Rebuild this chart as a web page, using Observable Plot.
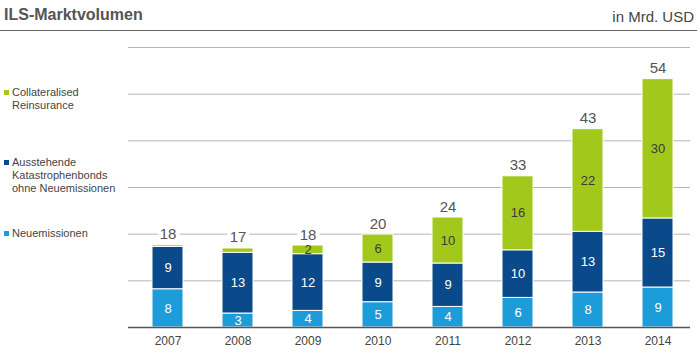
<!DOCTYPE html>
<html>
<head>
<meta charset="utf-8">
<script src="https://cdn.jsdelivr.net/npm/d3@7"></script>
<script src="https://cdn.jsdelivr.net/npm/@observablehq/plot@0.6"></script>
<style>
  html, body { margin: 0; padding: 0; background: #fff; }
  #wrap { position: relative; width: 700px; height: 358px; overflow: hidden; font-family: "Liberation Sans", Arial, sans-serif; }
  #chart { position: absolute; left: 0; top: 0; }
  .title { position: absolute; left: 4px; top: 5px; font-size: 16px; font-weight: bold; color: #555; line-height: 20px; }
  .unit { position: absolute; right: 6px; top: 7px; font-size: 15px; color: #444; line-height: 20px; }
  .hr { position: absolute; left: 0; top: 30px; width: 697px; height: 1px; background: #666; }
  .leg { position: absolute; left: 12px; font-size: 11px; line-height: 13px; color: #444; }
  .sq { position: absolute; left: 4px; width: 5px; height: 5px; }
</style>
</head>
<body>
<div id="wrap">
  <div id="chart"></div>
  <div class="title">ILS-Marktvolumen</div>
  <div class="unit">in Mrd. USD</div>
  <div class="hr"></div>
  <div id="legend"></div>
</div>
<script>
// Data (billion USD)
const years = ["2007", "2008", "2009", "2010", "2011", "2012", "2013", "2014"];
const neuemissionen = [8.2, 3.0, 3.56, 5.42, 4.41, 6.34, 7.5, 8.57];
const ausstehende = [9.06, 13.0, 12.15, 8.5, 9.3, 10.2, 13.0, 14.8];
const collateralised = [0.36, 0.94, 1.86, 6.0, 9.86, 15.86, 22.0, 29.85];
// Printed labels
const neuLabels = [8, 3, 4, 5, 4, 6, 8, 9];
const ausLabels = [9, 13, 12, 9, 9, 10, 13, 15];
const colLabels = [null, null, 2, 6, 10, 16, 22, 30];
const totalLabels = [18, 17, 18, 20, 24, 33, 43, 54];
const gridTicks = [10, 20, 30, 40, 50, 60];

const seriesNames = ["Neuemissionen", "Ausstehende Katastrophenbonds ohne Neuemissionen", "Collateralised Reinsurance"];
const seriesColors = ["#1c9dda", "#0b4a8a", "#a2c81c"];
const seriesValues = [neuemissionen, ausstehende, collateralised];
const seriesLabels = [neuLabels, ausLabels, colLabels];
const labelColors = ["#ffffff", "#ffffff", "#3b3b3b"];

const rows = [];
const totals = [];
years.forEach((yr, i) => {
  let base = 0;
  seriesNames.forEach((name, s) => {
    const v = seriesValues[s][i];
    rows.push({ year: yr, series: name, y1: base, y2: base + v, mid: base + v / 2, label: seriesLabels[s][i], tc: labelColors[s] });
    base += v;
  });
  totals.push({ year: yr, top: base, label: totalLabels[i] });
});

const chart = Plot.plot({
  width: 700,
  height: 358,
  marginLeft: 128,
  marginRight: 10,
  marginTop: 47,
  marginBottom: 31,
  style: { fontFamily: "'Liberation Sans', Arial, sans-serif", fontSize: "12px", color: "#444", background: "transparent" },
  x: { domain: years, range: [131, 693], paddingInner: 0.5625, paddingOuter: 0.25, label: null, tickSize: 0, tickPadding: 9 },
  y: { domain: [0, 60], axis: null },
  color: { domain: seriesNames, range: seriesColors },
  marks: [
    Plot.ruleY(gridTicks, { stroke: "#b5b5b5", strokeWidth: 1 }),
    Plot.barY(rows, { x: "year", y1: "y1", y2: "y2", fill: "series", stroke: "white", strokeWidth: 1 }),
    Plot.ruleY([0], { stroke: "#555", strokeWidth: 1.5 }),
    Plot.text(rows.filter(d => d.label != null), { x: "year", y: "mid", text: "label", fill: "tc", fontSize: 13 }),
    Plot.text(totals, { x: "year", y: "top", text: "label", lineAnchor: "bottom", dy: -6, fontSize: 15, fill: "#555", stroke: "white", strokeWidth: 8, paintOrder: "stroke" })
  ]
});
document.getElementById("chart").appendChild(chart);

// Legend (HTML overlay, left side)
const legendItems = [
  { name: ["Collateralised", "Reinsurance"], color: seriesColors[2], top: 85.5 },
  { name: ["Ausstehende", "Katastrophenbonds", "ohne Neuemissionen"], color: seriesColors[1], top: 155.5 },
  { name: ["Neuemissionen"], color: seriesColors[0], top: 226.5 }
];
const leg = document.getElementById("legend");
legendItems.forEach(it => {
  const sq = document.createElement("div");
  sq.className = "sq";
  sq.style.top = (it.top + 4) + "px";
  sq.style.background = it.color;
  leg.appendChild(sq);
  const t = document.createElement("div");
  t.className = "leg";
  t.style.top = it.top + "px";
  t.innerHTML = it.name.join("<br>");
  leg.appendChild(t);
});
</script>
</body>
</html>
